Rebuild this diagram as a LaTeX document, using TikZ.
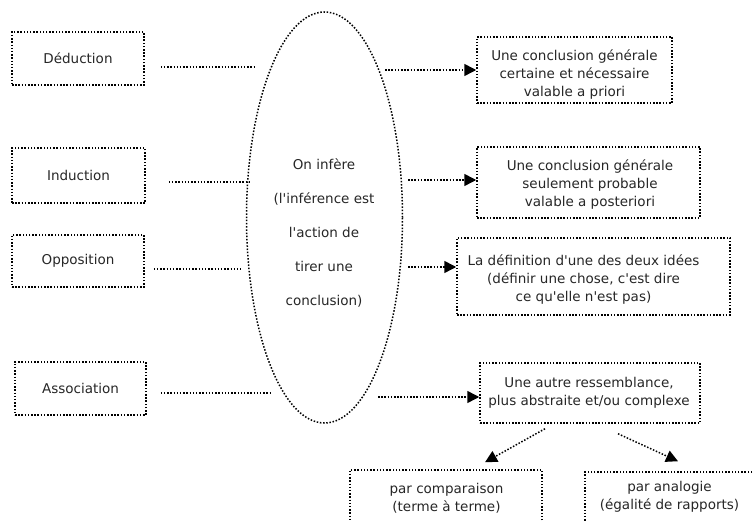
\documentclass[tikz,border=0pt]{standalone}
\usepackage{fontspec}
\setmainfont{DejaVu Sans}
\usetikzlibrary{calc,shapes.geometric,arrows.meta}
\tikzset{
    dots/.style={line width=1.5pt, dash pattern=on 1.5pt off 1.7pt},
    box/.style={draw, dots, inner sep=0pt},
    txt/.style={align=center, text=black!85, font=\fontsize{13.5}{18}\selectfont},
    link/.style={dots},
    arr/.style={dots, -{Triangle[length=12pt,width=12pt]}}
}

\begin{document}
\begin{tikzpicture}[x=1pt,y=-1pt]
  % Frame
    \useasboundingbox (0,0) rectangle (753,521);
    \clip (0,0) rectangle (753,521);

  % Left column
    \node[box,txt,minimum width=132pt,minimum height=53pt] (ded) at (78,58.5) {Déduction};
    \node[box,txt,minimum width=133pt,minimum height=55pt] (ind) at (78.5,175.5) {Induction};
    \node[box,txt,minimum width=132pt,minimum height=52pt] (opp) at (78,261) {Opposition};
    \node[box,txt,minimum width=131pt,minimum height=53pt] (ass) at (80.5,388.5) {Association};

  % The ellipse
    \node[ellipse,draw,dots,minimum width=156pt,minimum height=411pt,inner sep=0pt] (inf) at (324.5,217.5) {};
    \node[txt,font=\fontsize{13.5}{34}\selectfont] (inft) at (324,233) {On infère\\(l\textquotesingle inférence est\\l\textquotesingle action de\\tirer une\\conclusion)};

    \draw[link] ($(ded.east)+(16,8.5)$) -- ++(93,0);
    \draw[link] ($(ind.east)+(23,6.5)$) -- ++(82,0);
    \draw[link] ($(opp.east)+(9,8)$) -- ++(87,0);
    \draw[link] ($(ass.east)+(14,4.5)$) -- ++(110,0);

  % Right column
    \node[box,minimum width=195pt,minimum height=66pt] (c1) at (574.5,70) {};
    \node[txt] (c1t) at (574.5,75) {Une conclusion générale\\certaine et nécessaire\\valable a priori};
    \node[box,minimum width=223pt,minimum height=71pt] (c2) at (588.5,182.5) {};
    \node[txt] (c2t) at (590,185) {Une conclusion générale\\seulement probable\\valable a posteriori};
    \node[box,minimum width=273pt,minimum height=77pt] (c3) at (593.5,276.5) {};
    \node[txt] (c3t) at (583.5,280) {La définition d\textquotesingle une des deux idées\\(définir une chose, c\textquotesingle est dire\\ce qu\textquotesingle elle n\textquotesingle est pas)};
    \node[box,minimum width=220pt,minimum height=60pt] (c4) at (590,393) {};
    \node[txt] (c4t) at (589,392.5) {Une autre ressemblance,\\plus abstraite et/ou complexe};
    \node[box,minimum width=192pt,minimum height=60pt] (c5) at (446,500) {};
    \node[txt] (c5t) at (446.5,498.5) {par comparaison\\(terme à terme)};
    \node[box,minimum width=172pt,minimum height=60pt] (c6) at (671,502) {};
    \node[txt] (c6t) at (669.5,496.5) {par analogie\\(égalité de rapports)};

  % Arrows
    \coordinate (s1) at (385,70);
    \coordinate (s2) at (408,180);
    \coordinate (s3) at (408,267);
    \coordinate (s4) at (378,397);
    \draw[arr] (s1) -- (s1 -| c1.west);
    \draw[arr] (s2) -- (s2 -| c2.west);
    \draw[arr] (s3) -- (s3 -| c3.west);
    \draw[arr] (s4) -- (s4 -| c4.west);
    \draw[arr] ($(c4.south)+(-45,5)$) -- ($(c5.north)+(39,-7)$);
    \draw[arr] ($(c4.south)+(28,10)$) -- ($(c6.north)+(7,-10)$);
\end{tikzpicture}
\end{document}
